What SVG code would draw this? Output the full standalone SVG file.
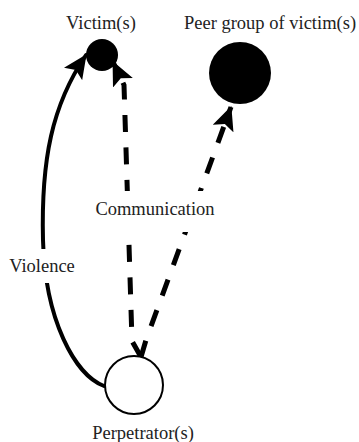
<svg xmlns="http://www.w3.org/2000/svg" width="359" height="442" viewBox="0 0 359 442">
<style>
text{font-family:"Liberation Serif","Times New Roman",serif;font-size:18.5px;fill:#222;text-anchor:middle}
.solid{fill:none;stroke:#000;stroke-width:4;stroke-linecap:round}
.dash{fill:none;stroke:#000;stroke-width:5;stroke-dasharray:17 15.5}
.mask{fill:#fff}
</style>
<defs>
<marker id="arr" viewBox="0 0 24 22" refX="23" refY="11" markerWidth="24" markerHeight="22" markerUnits="userSpaceOnUse" orient="auto">
<path d="M0,0 L24,11 L0,22 L5,11 Z" fill="#000"/>
</marker>
</defs>
<rect width="359" height="442" fill="#fff"/>
<g id="connectors">
<path id="violence" class="solid" d="M104,386 C75,375 45,320 43,240 S52,105 86,55" marker-end="url(#arr)"/>
<path id="comm-victim" class="dash" d="M141,357 L132,341 L124,85 L113,62" marker-end="url(#arr)"/>
<path id="comm-peer" class="dash" d="M141,357 L146,340 L231,107" marker-end="url(#arr)"/>
<rect class="mask" x="92" y="191" width="126" height="41"/>
<rect class="mask" x="4" y="249" width="78" height="34"/>
</g>
<g id="victim">
<circle cx="102" cy="55" r="16" fill="#000"/>
<text x="101" y="29">Victim(s)</text>
</g>
<g id="peer">
<circle cx="240" cy="73" r="31" fill="#000"/>
<text x="270" y="29">Peer group of victim(s)</text>
</g>
<g id="perpetrator">
<circle cx="134" cy="385" r="29" fill="#fff" stroke="#000" stroke-width="2"/>
<text x="143" y="439">Perpetrator(s)</text>
</g>
<g id="labels">
<text x="155" y="215">Communication</text>
<text x="42" y="272">Violence</text>
</g>
</svg>
